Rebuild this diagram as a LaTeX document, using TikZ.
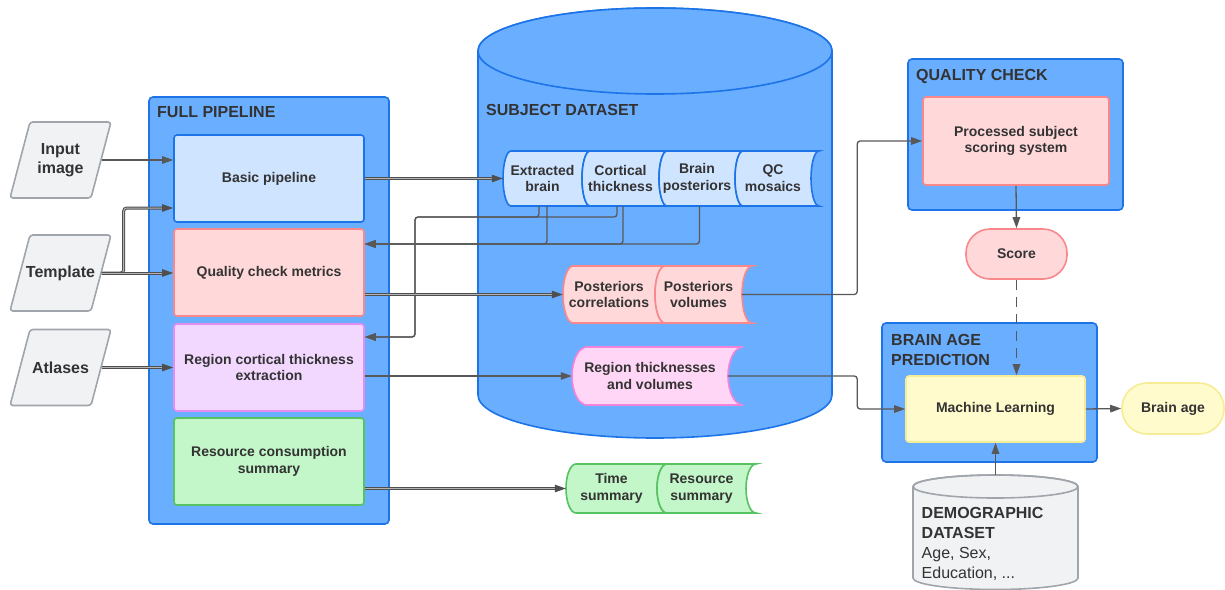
\documentclass[tikz,border=0pt]{standalone}
\usepackage{fontspec}
\setmainfont{Liberation Sans}
\usetikzlibrary{arrows.meta}

\definecolor{txt}{RGB}{51,51,51}
\definecolor{wire}{RGB}{88,88,88}
\definecolor{contfill}{RGB}{106,174,255}
\definecolor{contline}{RGB}{28,116,232}
\definecolor{bluefill}{RGB}{207,228,255}
\definecolor{pinkfill}{RGB}{255,216,218}
\definecolor{pinkline}{RGB}{248,136,140}
\definecolor{lilacfill}{RGB}{242,215,255}
\definecolor{lilacline}{RGB}{228,140,240}
\definecolor{greenfill}{RGB}{195,246,200}
\definecolor{greenline}{RGB}{86,194,98}
\definecolor{rosefill}{RGB}{255,214,245}
\definecolor{roseline}{RGB}{244,132,218}
\definecolor{yelfill}{RGB}{255,251,204}
\definecolor{yelline}{RGB}{246,236,150}
\definecolor{grayfill}{RGB}{241,242,244}
\definecolor{grayline}{RGB}{160,165,172}

\tikzstyle{cont}=[draw=contline, fill=contfill, line width=1.6pt, rounded corners=4pt]
\tikzstyle{box}=[rectangle, line width=1.6pt, rounded corners=3pt, minimum width=190pt, minimum height=87pt, align=center, text=txt, font=\fontsize{14}{16.8}\selectfont\bfseries]
\tikzstyle{heading}=[anchor=north west, align=left, inner sep=0pt, text=txt, font=\fontsize{16}{19.7}\selectfont\bfseries]
\tikzstyle{inshape}=[draw=grayline, fill=grayfill, line width=1.6pt, rounded corners=3pt]
\tikzstyle{inlabel}=[minimum width=82pt, minimum height=76pt, inner sep=0pt, align=center, text=txt, font=\fontsize{16}{19.2}\selectfont\bfseries]
\tikzstyle{segtext}=[inner sep=0pt, align=center, text=txt, font=\fontsize{14}{16.8}\selectfont\bfseries]
\tikzstyle{conn}=[draw=wire, line width=1.3pt, rounded corners=3pt, -{Triangle[length=11pt,width=7.5pt]}]
\tikzstyle{dblconn}=[draw=wire!90!black, line width=1pt, double=wire!45, double distance=1pt, rounded corners=3pt, -{Triangle[length=11pt,width=7.5pt]}]
\tikzstyle{dashconn}=[conn, dash pattern=on 10pt off 7pt]

% slanted input box: name, centre y, text
\newcommand{\inputshape}[3]{%
  \draw[inshape] (10,{-#2-38}) -- ++(20,76) -- ++(81,0) -- ++(-20,-76) -- cycle;
  \node[inlabel] (#1) at (60.5,{-#2}) {#3};
}

% stored data segment: name, left x, right x, top y, bottom y, bulge, style, text
\newcommand{\dataseg}[8]{%
  \draw[#7, line width=1.6pt] ({#2+#6},{-#4}) -- ({#3+#6},{-#4})
    arc[start angle=90, end angle=270, x radius=#6, y radius={(#5-#4)/2}]
    -- ({#2+#6},{-#5})
    arc[start angle=270, end angle=90, x radius=#6, y radius={(#5-#4)/2}] -- cycle;
  \node[segtext, minimum width={(#3-#2)*1pt}, minimum height={(#5-#4)*1pt}] (#1) at ({(#2+#3)/2},{-(#4+#5)/2}) {#8};
}

\begin{document}
\begin{tikzpicture}[x=1pt, y=1pt]
    \useasboundingbox (0,0) rectangle (1225,-589);

    % containers
    \node[cont, minimum width=240pt, minimum height=427pt] (full) at (269,-310.5) {};
    \node[heading] (fullhead) at (157,-106.5) {FULL PIPELINE};

    \draw[cont, rounded corners=0pt] (478,-51) -- (478,-395)
        arc[start angle=180, end angle=360, x radius=177, y radius=43]
        -- (832,-51) arc[start angle=0, end angle=180, x radius=177, y radius=43] -- cycle;
    \draw[cont, rounded corners=0pt] (655,-51) ellipse[x radius=177, y radius=43];
    \node[heading] (subjhead) at (486,-104) {SUBJECT DATASET};

    \node[cont, minimum width=215pt, minimum height=151pt] (qual) at (1015.5,-134.5) {};
    \node[heading] (qualhead) at (916,-69.3) {QUALITY CHECK};

    \node[cont, minimum width=215pt, minimum height=139pt] (agepred) at (989.5,-392.5) {};
    \node[heading] (agehead) at (891,-334) {BRAIN AGE\\PREDICTION};

    % inputs
    \inputshape{input}{160}{Input\\image}
    \inputshape{template}{273}{Template}
    \inputshape{atlases}{367.5}{Atlases}

    % pipeline steps
    \node[box, draw=contline, fill=bluefill] (basic) at (269,-178.5) {Basic pipeline};
    \node[box, draw=pinkline, fill=pinkfill] (qcm) at (269,-272.5) {Quality check metrics};
    \node[box, draw=lilacline, fill=lilacfill] (region) at (269,-367.5) {Region cortical thickness\\extraction};
    \node[box, draw=greenline, fill=greenfill] (resource) at (269,-461.5) {Resource consumption\\summary};

    % stored outputs
    \dataseg{ext}{503}{582}{151}{206}{8}{draw=contline, fill=bluefill}{Extracted\\brain}
    \dataseg{cort}{582}{659}{151}{206}{8}{draw=contline, fill=bluefill}{Cortical\\thickness}
    \dataseg{bpost}{659}{735}{151}{206}{8}{draw=contline, fill=bluefill}{Brain\\posteriors}
    \dataseg{qcmos}{735}{811}{151}{206}{8}{draw=contline, fill=bluefill}{QC\\mosaics}
    \dataseg{pcorr}{563}{655}{266}{323}{10}{draw=pinkline, fill=pinkfill}{Posteriors\\correlations}
    \dataseg{pvol}{655}{742}{266}{323}{10}{draw=pinkline, fill=pinkfill}{Posteriors\\volumes}
    \dataseg{regvol}{572}{728}{347}{405}{15}{draw=roseline, fill=rosefill}{Region thicknesses\\and volumes}
    \dataseg{tsum}{566}{657}{464}{513}{10}{draw=greenline, fill=greenfill}{Time\\summary}
    \dataseg{rsum}{657}{746}{464}{513}{10}{draw=greenline, fill=greenfill}{Resource\\summary}

    % scoring and prediction
    \node[box, draw=pinkline, fill=pinkfill, minimum width=186pt, minimum height=88pt] (proc) at (1016,-141) {Processed subject\\scoring system};
    \node[box, draw=pinkline, fill=pinkfill, minimum width=101pt, minimum height=50pt, rounded corners=24pt] (score) at (1016.5,-254) {Score};
    \node[box, draw=yelline, fill=yelfill, minimum width=179pt, minimum height=66pt] (ml) at (995.5,-409) {Machine Learning};
    \node[box, draw=yelline, fill=yelfill, minimum width=102pt, minimum height=51pt, rounded corners=25pt] (brainage) at (1173,-408.5) {Brain age};

    \draw[line width=1.6pt, draw=grayline, fill=grayfill] (913,-486.5) -- (913,-578)
        arc[start angle=180, end angle=360, x radius=82.5, y radius=11.5]
        -- (1078,-486.5) arc[start angle=0, end angle=180, x radius=82.5, y radius=11.5] -- cycle;
    \draw[line width=1.6pt, draw=grayline] (995.5,-486.5) ellipse[x radius=82.5, y radius=11.5];
    \coordinate (demotop) at (995.5,-475);
    \node[heading, font=\fontsize{16}{19.8}\selectfont] (demo) at (921.5,-507.5) {\textbf{DEMOGRAPHIC}\\\textbf{DATASET}\\Age, Sex,\\Education, ...};

    % connectors
    \draw[conn] (input.east) -- (input.east -| basic.west);
    \draw[dblconn] (template.east) -- ++(22,0) |- ([yshift=-29.5pt]basic.west);
    \draw[dblconn] (template.east) -- (template.east -| qcm.west);
    \draw[dblconn] (atlases.east) -- (atlases.east -| region.west);
    \draw[dblconn] (basic.east) -- (ext.west);

    \draw[conn] ([xshift=4.5pt]ext.south) |- ([yshift=28.5pt]qcm.east);
    \draw[conn] ([xshift=2.5pt]cort.south) |- ([yshift=28.5pt]qcm.east);
    \draw[conn] ([xshift=2.5pt]bpost.south) |- ([yshift=28.5pt]qcm.east);
    \coordinate (regvia) at (415,-217);
    \draw[conn] ([xshift=-3.5pt]ext.south) |- (regvia) |- ([yshift=30.5pt]region.east);
    \draw[conn] ([xshift=-3.5pt]cort.south) |- (regvia) |- ([yshift=30.5pt]region.east);

    \draw[dblconn] (qcm.east |- pcorr.west) -- (pcorr.west);
    \draw[conn] (pvol.east) -- ++(115,0) |- (proc.west);
    \draw[conn] (region.east |- regvol.west) -- (regvol.west);
    \draw[conn] (regvol.east) -- ++(129,0) |- (ml.west);
    \draw[dblconn] (resource.east |- tsum.west) -- (tsum.west);

    \draw[conn] (proc.south) -- (score.north);
    \draw[dashconn] (score.south) -- (score.south |- ml.north);
    \draw[conn] (ml.east) -- (brainage.west);
    \draw[conn] (demotop) -- (demotop |- ml.south);
\end{tikzpicture}
\end{document}
